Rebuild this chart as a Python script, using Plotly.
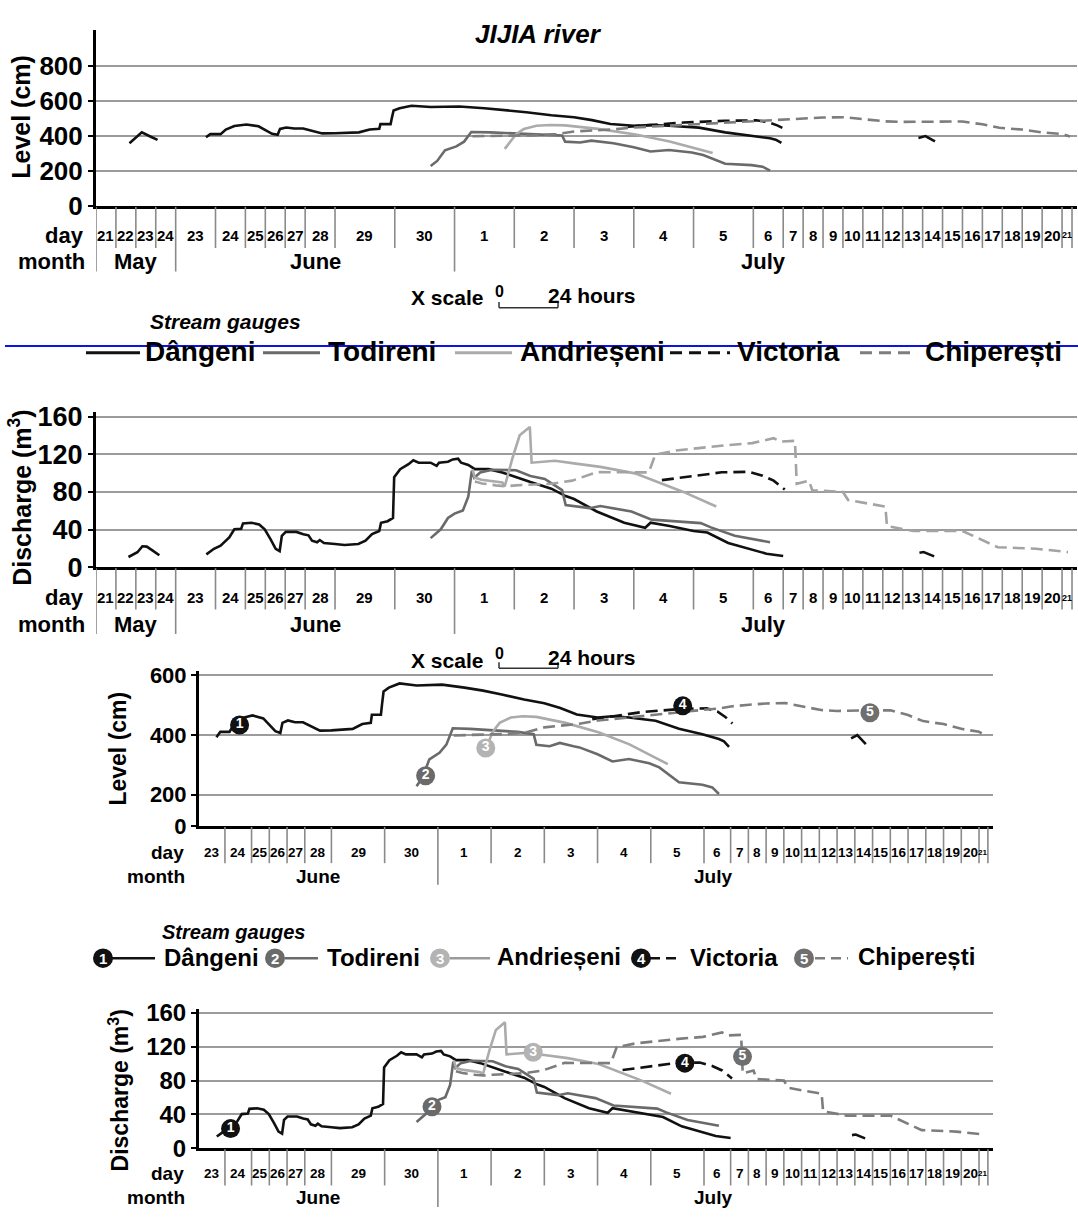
import numpy as np
import plotly.graph_objects as go

W, H = 1078, 1222
FONT = "Liberation Sans, Arial, Helvetica, sans-serif"

# ---------------- time axis (non-uniform day segments) ----------------
DAY_LABELS = ["21", "22", "23", "24",
              "23", "24", "25", "26", "27", "28", "29", "30",
              "1", "2", "3", "4", "5", "6", "7", "8", "9", "10", "11", "12",
              "13", "14", "15", "16", "17", "18", "19", "20", "21"]
# width of each day segment in "scale hours" (24 = true 24 h scale)
DAY_WIDTHS = [8, 8, 8, 8,
              16, 12, 8, 8, 8, 12, 24, 24,
              24, 24, 24, 24, 24, 12, 8, 8, 8, 8, 8, 8,
              8, 8, 8, 8, 8, 8, 8, 8, 4]
MONTH_NAMES = ["May", "June", "July"]
MONTH_START = [0, 4, 12]
MONTH_END = [4, 12, 33]

LEVEL_TICKS = [0, 200, 400, 600, 800]
DISCHARGE_TICKS = [0, 40, 80, 120, 160]

GAUGES = ["Dângeni", "Todireni", "Andrieșeni", "Victoria", "Chiperești"]
GAUGE_NUMS = ["1", "2", "3", "4", "5"]

# ---------------- data: time = day-segment index + fraction ----------------
# Level (cm)
DANGENI_H_T1 = [1.68, 2.0, 2.3, 2.75, 3.09]
DANGENI_H_V1 = [358, 392, 420, 395, 377]
DANGENI_H_T2 = [4.76, 4.87, 5.17, 5.345, 5.63, 5.98, 6.05, 6.66, 7.0, 7.34, 7.62, 7.74, 8.05, 8.45,
                8.9, 9.29, 9.57, 10.0, 10.4, 10.58, 10.74, 10.76, 10.93, 10.95, 10.98, 11.08, 11.28,
                11.6, 12.08, 12.5, 12.85, 13.2, 13.62, 14.0, 14.3, 14.61, 15.0, 15.28, 15.59, 16.09,
                16.53, 16.97, 17.56, 17.75, 17.94]
DANGENI_H_V2 = [392, 410, 410, 436, 456, 465, 465, 455, 432, 412, 406, 440, 448, 442,
                442, 426, 414, 415, 420, 436, 440, 467, 467, 500, 545, 558, 572,
                565, 568, 558, 548, 535, 518, 506, 490, 468, 458, 462, 458, 447,
                420, 402, 386, 378, 360]
DANGENI_H_T3 = [24.79, 25.14, 25.62]
DANGENI_H_V3 = [388, 399, 369]

TODIRENI_H_T = [11.6, 11.71, 11.84, 12.03, 12.16, 12.28, 12.6, 13.0, 13.5, 13.8, 13.85, 14.1, 14.29,
                14.55, 14.66, 15.0, 15.28, 15.59, 15.97, 16.16, 16.53, 16.97, 17.31, 17.56]
TODIRENI_H_V = [228, 257, 318, 340, 367, 422, 420, 415, 410, 402, 367, 362, 373,
                362, 358, 335, 311, 319, 305, 291, 241, 233, 224, 202]

ANDRIESENI_H_T = [12.84, 13.03, 13.16, 13.37, 13.6, 13.85, 14.4, 15.03, 15.6, 16.32]
ANDRIESENI_H_V = [326, 410, 440, 458, 462, 460, 440, 408, 368, 302]

VICTORIA_H_T = [14.9, 15.4, 15.83, 16.52, 17.1, 17.5, 17.8, 18.1]
VICTORIA_H_V = [452, 465, 476, 486, 489, 478, 460, 438]

CHIPERESTI_H_T = [12.3, 12.8, 13.3, 13.7, 14.0, 14.66, 15.0, 15.59, 16.0, 16.53, 17.0, 17.56, 18.0,
                  18.9, 20.0, 21.1, 22.0, 23.1, 24.0, 25.0, 26.0, 27.0, 28.0, 28.85, 30.0, 31.0,
                  32.0, 32.8]
CHIPERESTI_H_V = [398, 400, 403, 410, 425, 437, 448, 458, 466, 476, 484, 488, 495,
                  500, 505, 506, 496, 483, 480, 482, 482, 482, 466, 446, 436, 420,
                  410, 397]

# Discharge (m3)
DANGENI_Q_T1 = [1.63, 2.08, 2.33, 2.55, 2.83, 3.18]
DANGENI_Q_V1 = [11, 16, 22.4, 22, 18, 12.8]
DANGENI_Q_T2 = [4.77, 4.96, 5.17, 5.46, 5.63, 5.86, 5.92, 6.31, 6.69, 6.97, 7.26, 7.52, 7.72, 7.83,
                8.03, 8.56, 8.91, 9.11, 9.23, 9.4, 9.49, 9.63, 10.0, 10.16, 10.39, 10.51, 10.62,
                10.74, 10.77, 10.88, 10.97, 10.99, 11.09, 11.23, 11.31, 11.4, 11.6, 11.7, 11.74,
                11.89, 11.97, 12.06, 12.11, 12.23, 12.34, 12.57, 12.8, 13.03, 13.27, 13.62, 13.86,
                14.0, 14.38, 14.84, 15.19, 15.28, 15.6, 16.0, 16.23, 16.58, 16.87, 17.44, 18.0]
DANGENI_Q_V2 = [13.8, 19.7, 23, 31.7, 40.4, 41, 46.6, 47.3, 45.5, 40.4, 30, 19.7, 17.3, 33.5,
                37.6, 37.6, 35.2, 34, 28.3, 26.6, 29, 25.9, 24.8, 23.8, 24.8, 28.3, 35.2,
                38.6, 47.3, 49, 52.4, 95.6, 104.2, 109.4, 113.5, 111, 111, 107.6, 111,
                112, 114.5, 115.2, 111, 108.7, 104.2, 104.2, 100.7, 95.6, 90.5, 83.5, 75.6,
                72.5, 59.3, 47.3, 42, 47.3, 43.8, 38.6, 36.9, 25.9, 20.4, 14.5, 12.1]
DANGENI_Q_T3 = [24.84, 25.05, 25.58]
DANGENI_Q_V3 = [15.5, 16.2, 11.7]

TODIRENI_Q_T = [11.6, 11.77, 11.89, 12.0, 12.14, 12.23, 12.29, 12.33, 12.43, 12.63, 13.03, 13.27,
                13.51, 13.8, 13.86, 14.26, 14.44, 14.96, 15.3, 16.12, 16.29, 16.69, 17.56]
TODIRENI_Q_V = [31, 40.4, 52.4, 57, 60.4, 75, 102.5, 95, 100.7, 103.5, 103, 97,
                93.8, 82, 66, 62.8, 65, 59.3, 50.6, 46.9, 42.4, 33.5, 26.6]

ANDRIESENI_Q_T = [12.3, 12.34, 12.45, 12.8, 12.84, 12.97, 13.09, 13.26, 13.29, 13.68, 14.03,
                  14.44, 15.02, 15.48, 15.83, 16.38]
ANDRIESENI_Q_V = [104, 95, 93, 90, 86, 116, 140, 149, 111, 113, 110,
                  106.6, 99.7, 88.7, 80, 64.5]

VICTORIA_Q_T = [15.47, 16.0, 16.47, 16.92, 17.31, 17.68, 18.08]
VICTORIA_Q_V = [92.5, 97.3, 100.8, 101.4, 97.3, 92, 82.5]

CHIPERESTI_Q_T = [12.34, 12.46, 12.69, 12.86, 13.03, 13.42, 13.62, 13.97, 14.38, 15.25, 15.36, 15.71,
                  16.06, 16.52, 16.98, 17.68, 17.92, 18.59, 18.68, 19.29, 19.46, 21.0, 21.26, 23.13,
                  23.21, 24.53, 27.0, 27.88, 28.77, 30.7, 32.6]
CHIPERESTI_Q_V = [91, 89, 87, 86, 87, 87.6, 88.7, 92, 101, 100.7, 119.7, 124,
                  126.6, 129.4, 131.8, 137, 133.5, 134.2, 88.7, 92, 81.8, 80, 71.4, 64.5,
                  43.8, 38.6, 38.6, 30, 21.4, 19.7, 16.2]

# numbered gauge markers in the lower (zoomed) panels
MARK_H_T = [5.55, 11.77, 12.9, 16.6, 25.85]
MARK_H_V = [433, 263, 356, 497, 474]
MARK_Q_T = [5.21, 11.89, 13.79, 16.64, 18.67]
MARK_Q_V = [23.2, 49, 113.5, 100.7, 108.4]

# ---------------- helpers ----------------
EDGES_U = np.concatenate([[0.0], np.cumsum(DAY_WIDTHS)]).astype(float)
SEG_T = np.arange(len(EDGES_U), dtype=float)


def to_u(t):
    return np.interp(np.asarray(t, float), SEG_T, EDGES_U)


def fx(px):
    return px / W


def fy(py):
    return 1 - py / H


def joined(segs):
    xs, ys = [], []
    for i, (t, v) in enumerate(segs):
        if i:
            xs.append(None)
            ys.append(None)
        xs += list(to_u(t))
        ys += list(v)
    return xs, ys


LEVEL_SEGS = {
    "Dângeni": [(DANGENI_H_T1, DANGENI_H_V1), (DANGENI_H_T2, DANGENI_H_V2), (DANGENI_H_T3, DANGENI_H_V3)],
    "Todireni": [(TODIRENI_H_T, TODIRENI_H_V)],
    "Andrieșeni": [(ANDRIESENI_H_T, ANDRIESENI_H_V)],
    "Victoria": [(VICTORIA_H_T, VICTORIA_H_V)],
    "Chiperești": [(CHIPERESTI_H_T, CHIPERESTI_H_V)],
}
Q_SEGS = {
    "Dângeni": [(DANGENI_Q_T1, DANGENI_Q_V1), (DANGENI_Q_T2, DANGENI_Q_V2), (DANGENI_Q_T3, DANGENI_Q_V3)],
    "Todireni": [(TODIRENI_Q_T, TODIRENI_Q_V)],
    "Andrieșeni": [(ANDRIESENI_Q_T, ANDRIESENI_Q_V)],
    "Victoria": [(VICTORIA_Q_T, VICTORIA_Q_V)],
    "Chiperești": [(CHIPERESTI_Q_T, CHIPERESTI_Q_V)],
}

COLORS = {"Dângeni": "#111111", "Todireni": "#6a6a6a", "Andrieșeni": "#ababab",
          "Victoria": "#111111", "Chiperești": "#7d7d7d"}
DASHES = {"Dângeni": "solid", "Todireni": "solid", "Andrieșeni": "solid",
          "Victoria": "12px,6px", "Chiperești": "12px,6px"}
MARK_COLORS = ["#111111", "#6a6a6a", "#b3b3b3", "#111111", "#6f6f6f"]

# panel geometry in page pixels
PANELS = [
    dict(xa="x", ya="y", xpx=(96, 1077), ypx=(200, 20), ur=(0, 394.0), yr=(0, 1007),
         tv=LEVEL_TICKS, tt=[str(v) for v in LEVEL_TICKS], tsize=26, kind="H",
         sep=(43, 67), day_y=230, month_y=257, lab_x=86, dsize=15, msize=22, small=False),
    dict(xa="x2", ya="y2", xpx=(96, 1077), ypx=(569, 410), ur=(0, 394.0), yr=(0, 165.2),
         tv=DISCHARGE_TICKS, tt=[str(v) for v in DISCHARGE_TICKS], tsize=27, kind="Q",
         sep=(43, 68), day_y=600, month_y=627, lab_x=86, dsize=15, msize=22, small=False),
    dict(xa="x3", ya="y3", xpx=(199, 993), ypx=(833, 675), ur=(36.3, 394.3), yr=(95, 613),
         tv=[95, 200, 400, 600], tt=["0", "200", "400", "600"], tsize=22, kind="H",
         sep=(38, 60), day_y=860, month_y=885, lab_x=186, dsize=13.5, msize=19, small=True),
    dict(xa="x4", ya="y4", xpx=(199, 993), ypx=(1162, 1020), ur=(36.3, 394.3), yr=(0, 164.6),
         tv=DISCHARGE_TICKS, tt=[str(v) for v in DISCHARGE_TICKS], tsize=24, kind="Q",
         sep=(38, 60), day_y=1188, month_y=1212, lab_x=186, dsize=13.5, msize=19, small=True),
]

fig = go.Figure()
shapes = []
annots = []


def ann(x, y, text, size, xanchor="center", yanchor="middle", color="#000",
        xref="paper", angle=0):
    annots.append(dict(x=x, y=y, xref=xref, yref="paper", text=text, showarrow=False,
                       xanchor=xanchor, yanchor=yanchor, textangle=angle,
                       font=dict(family=FONT, size=size, color=color)))


layout_axes = {}
for i, p in enumerate(PANELS):
    xname = "xaxis" if i == 0 else f"xaxis{i+1}"
    yname = "yaxis" if i == 0 else f"yaxis{i+1}"
    layout_axes[xname] = dict(domain=[fx(p["xpx"][0]), fx(p["xpx"][1])], range=list(p["ur"]),
                              anchor=p["ya"], showline=True, linecolor="#000", linewidth=3,
                              showticklabels=False, ticks="", showgrid=False, zeroline=False,
                              fixedrange=True)
    layout_axes[yname] = dict(domain=[fy(p["ypx"][0]), fy(p["ypx"][1])], range=list(p["yr"]),
                              anchor=p["xa"], tickmode="array", tickvals=p["tv"],
                              ticktext=[f"<b>{s}</b>" for s in p["tt"]],
                              tickfont=dict(family=FONT, size=p["tsize"], color="#000"),
                              showgrid=True, gridcolor="#9b9b9b", gridwidth=2,
                              showline=True, linecolor="#000", linewidth=3,
                              ticks="outside", ticklen=5, tickwidth=2, tickcolor="#000",
                              zeroline=False, fixedrange=True)

    segs = LEVEL_SEGS if p["kind"] == "H" else Q_SEGS
    for g in GAUGES:
        xs, ys = joined(segs[g])
        col = COLORS[g]
        if g == "Chiperești" and i == 1:
            col = "#a3a3a3"
        fig.add_trace(go.Scatter(x=xs, y=ys, xaxis=p["xa"], yaxis=p["ya"], mode="lines",
                                 line=dict(color=col, width=2.6, dash=DASHES[g]),
                                 hoverinfo="skip", showlegend=False))

    if p["small"]:
        mt = MARK_H_T if p["kind"] == "H" else MARK_Q_T
        mv = MARK_H_V if p["kind"] == "H" else MARK_Q_V
        fig.add_trace(go.Scatter(x=list(to_u(mt)), y=mv, xaxis=p["xa"], yaxis=p["ya"],
                                 mode="markers+text", text=[f"<b>{n}</b>" for n in GAUGE_NUMS],
                                 textposition="middle center",
                                 textfont=dict(family=FONT, size=14, color="#ffffff"),
                                 marker=dict(size=19, color=MARK_COLORS, line=dict(width=0)),
                                 hoverinfo="skip", showlegend=False, cliponaxis=False))

    # day separators and labels
    r0, r1 = p["ur"]
    base = p["ypx"][0]
    xref = p["xa"]
    for k, u in enumerate(EDGES_U):
        if u < r0 - 0.01 or u > r1:
            continue
        long_ = k in MONTH_START
        L = p["sep"][1] if long_ else p["sep"][0]
        shapes.append(dict(type="line", xref=xref, yref="paper", x0=u, x1=u,
                           y0=fy(base + 1), y1=fy(base + L),
                           line=dict(color="#8a8a8a", width=1.6)))
    for s, lab in enumerate(DAY_LABELS):
        u0, u1 = EDGES_U[s], EDGES_U[s + 1]
        if u1 <= r0 + 0.1 or u0 >= r1:
            continue
        c = (max(u0, r0) + min(u1, r1)) / 2
        size = p["dsize"] if DAY_WIDTHS[s] > 4 else p["dsize"] * 0.6
        ann(c, fy(p["day_y"]), f"<b>{lab}</b>", size, xref=xref)
    for m, name in enumerate(MONTH_NAMES):
        u0, u1 = EDGES_U[MONTH_START[m]], EDGES_U[MONTH_END[m]]
        if u1 <= r0 + 0.1:
            continue
        c = (max(u0, r0) + min(u1, r1)) / 2
        ann(c, fy(p["month_y"]), f"<b>{name}</b>", p["msize"], xref=xref)
    ann(fx(p["lab_x"]), fy(p["day_y"]), "<b>day</b>", p["msize"], xanchor="right")
    ann(fx(p["lab_x"] + 1), fy(p["month_y"]), "<b>month</b>", p["msize"], xanchor="right")

# axis titles
ann(fx(21), fy(109), "<b>Level (cm)</b>", 25, angle=-90)
ann(fx(20), fy(498), "<b>Discharge (m<sup>3</sup>)</b>", 25, angle=-90)
ann(fx(118), fy(754), "<b>Level (cm)</b>", 23, angle=-90)
ann(fx(119), fy(1103), "<b>Discharge (m<sup>3</sup>)</b>", 23, angle=-90)

# title
ann(fx(538), fy(25), "<b><i>JIJIA river</i></b>", 26)

# X scale indicators
for ytxt, ybar in [(294, 304), (664, 672)]:
    ann(fx(485), fy(ytxt), "<b>X scale</b>", 21, xanchor="right")
    ann(fx(499), fy(ytxt - 7), "<b>0</b>", 16)
    ann(fx(546), fy(ytxt - 3), "<b>24 hours</b>", 21, xanchor="left")
    for x0, x1, y0, y1 in [(499, 558, ybar, ybar), (499, 499, ybar - 6, ybar), (558, 558, ybar - 6, ybar)]:
        shapes.append(dict(type="line", xref="paper", yref="paper", x0=fx(x0), x1=fx(x1),
                           y0=fy(y0), y1=fy(y1), line=dict(color="#333333", width=1.5)))

# upper legend (lines only)
ann(fx(225), fy(318), "<b><i>Stream gauges</i></b>", 21)
LEG1 = [(86, 140, 143), (263, 320, 326), (455, 512, 518), (670, 730, 735), (860, 915, 923)]
for g, (l0, l1, tx) in zip(GAUGES, LEG1):
    shapes.append(dict(type="line", xref="paper", yref="paper", x0=fx(l0), x1=fx(l1),
                       y0=fy(350), y1=fy(350),
                       line=dict(color=COLORS[g], width=3,
                                 dash="12px,7px" if DASHES[g] != "solid" else "solid")))
    ann(fx(tx), fy(349), f"<b>{g}</b>", 28, xanchor="left")

# blue separator line
shapes.append(dict(type="line", xref="paper", yref="paper", x0=fx(5), x1=fx(1078),
                   y0=fy(343), y1=fy(343), line=dict(color="#0a14e6", width=2)))

# lower legend (numbered markers + lines)
ann(fx(233), fy(941), "<b><i>Stream gauges</i></b>", 20)
LEG2 = [(103, 110, 155, 162), (275, 285, 318, 325), (440, 450, 490, 495),
        (641, 650, 682, 688), (804, 815, 848, 856)]
for j, (g, (cx, l0, l1, tx)) in enumerate(zip(GAUGES, LEG2)):
    shapes.append(dict(type="line", xref="paper", yref="paper", x0=fx(l0), x1=fx(l1),
                       y0=fy(968), y1=fy(968),
                       line=dict(color=COLORS[g] if g != "Andrieșeni" else "#9a9a9a", width=2.5,
                                 dash="10px,6px" if DASHES[g] != "solid" else "solid")))
    shapes.append(dict(type="circle", xref="paper", yref="paper", x0=fx(cx - 10), x1=fx(cx + 10),
                       y0=fy(968 + 10), y1=fy(968 - 10), fillcolor=MARK_COLORS[j],
                       line=dict(width=0)))
    ann(fx(cx), fy(968), f"<b>{GAUGE_NUMS[j]}</b>", 15, color="#ffffff")
    ann(fx(tx), fy(967), f"<b>{g}</b>", 24, xanchor="left")

fig.update_layout(width=W, height=H, margin=dict(l=0, r=0, t=0, b=0),
                  paper_bgcolor="white", plot_bgcolor="white", showlegend=False,
                  shapes=shapes, annotations=annots, **layout_axes)

fig.write_html("out.html", config={"displayModeBar": False},
               post_script="document.body.style.margin='0';")
